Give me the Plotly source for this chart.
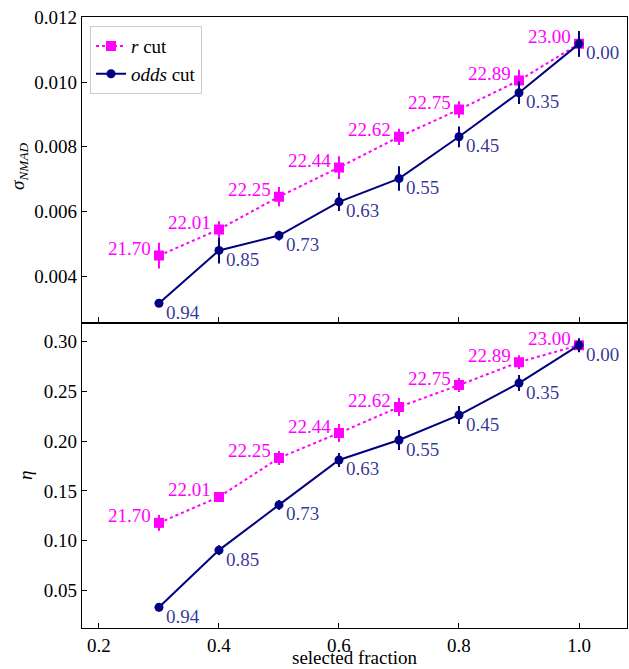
import plotly.graph_objects as go

# Selected fraction of the sample for each cut threshold
fraction = [0.3, 0.4, 0.5, 0.6, 0.7, 0.8, 0.9, 1.0]

# Magnitude (r) cut thresholds and odds cut thresholds
r_cut_labels = ["21.70", "22.01", "22.25", "22.44", "22.62", "22.75", "22.89", "23.00"]
odds_cut_labels = ["0.94", "0.85", "0.73", "0.63", "0.55", "0.45", "0.35", "0.00"]

# sigma_NMAD for each selection
sigma_r = [0.00464, 0.00545, 0.00646, 0.00736, 0.00831, 0.00915, 0.01005, 0.01118]
sigma_r_err = [0.00040, 0.00025, 0.00030, 0.00035, 0.00025, 0.00026, 0.00033, 0.00040]
sigma_odds = [0.00317, 0.00480, 0.00526, 0.00630, 0.00702, 0.00831, 0.00967, 0.01118]
sigma_odds_err = [0.00010, 0.00040, 0.00015, 0.00028, 0.00038, 0.00032, 0.00035, 0.00040]

# Outlier fraction eta for each selection
eta_r = [0.118, 0.144, 0.183, 0.208, 0.234, 0.256, 0.279, 0.296]
eta_r_err = [0.008, 0.005, 0.007, 0.009, 0.009, 0.007, 0.007, 0.005]
eta_odds = [0.0334, 0.0907, 0.136, 0.181, 0.201, 0.226, 0.258, 0.296]
eta_odds_err = [0.004, 0.005, 0.005, 0.007, 0.010, 0.009, 0.008, 0.007]

MAGENTA = "#ff00ff"
NAVY = "#000080"
NAVY_TEXT = "rgba(0,0,128,0.8)"
FONT = "Liberation Serif, DejaVu Serif, serif"
FS = 19

fig = go.Figure()


def add_pair(y_r, e_r, y_o, e_o, xa, ya, show):
    fig.add_trace(go.Scatter(
        x=fraction, y=y_r, xaxis=xa, yaxis=ya, name="<i>r</i> cut",
        mode="lines+markers", showlegend=show, legendrank=1,
        line=dict(color=MAGENTA, width=2, dash="dot"),
        marker=dict(symbol="square", size=10, color=MAGENTA),
        error_y=dict(type="data", array=e_r, color=MAGENTA, thickness=2, width=0),
    ))
    fig.add_trace(go.Scatter(
        x=fraction, y=y_o, xaxis=xa, yaxis=ya, name="<i>odds</i> cut",
        mode="lines+markers", showlegend=show, legendrank=2,
        line=dict(color=NAVY, width=2),
        marker=dict(symbol="circle", size=9, color=NAVY),
        error_y=dict(type="data", array=e_o, color=NAVY, thickness=2, width=0),
    ))
    for xv, yv, t in zip(fraction, y_r, r_cut_labels):
        fig.add_annotation(x=xv, y=yv, xref=xa, yref=ya, text=t, showarrow=False,
                           xanchor="right", yanchor="middle", xshift=-6, yshift=7,
                           font=dict(family=FONT, size=FS, color=MAGENTA))
    for xv, yv, t in zip(fraction, y_o, odds_cut_labels):
        fig.add_annotation(x=xv, y=yv, xref=xa, yref=ya, text=t, showarrow=False,
                           xanchor="left", yanchor="middle", xshift=5, yshift=-9,
                           font=dict(family=FONT, size=FS, color=NAVY_TEXT))


# top panel: sigma_NMAD (x2/y2), bottom panel: eta (x/y)
add_pair(sigma_r, sigma_r_err, sigma_odds, sigma_odds_err, "x2", "y2", True)
add_pair(eta_r, eta_r_err, eta_odds, eta_odds_err, "x", "y", False)

axis_common = dict(
    showline=True, linecolor="black", linewidth=1.2, mirror=True,
    ticks="inside", ticklen=5, tickwidth=1, tickcolor="black",
    showgrid=False, zeroline=False,
    tickfont=dict(family=FONT, size=FS, color="black"),
)

xr = [0.1717, 1.08]
fig.update_layout(
    width=629, height=669,
    margin=dict(l=82, r=2, t=17, b=41),
    paper_bgcolor="white", plot_bgcolor="white",
    font=dict(family=FONT, size=FS, color="black"),
    xaxis=dict(domain=[0, 1], anchor="y", range=xr, tickvals=[0.2, 0.4, 0.6, 0.8, 1.0],
               ticktext=["0.2", "0.4", "0.6", "0.8", "1.0"], ticklabelstandoff=0,
               **axis_common),
    xaxis2=dict(domain=[0, 1], anchor="y2", range=xr, matches="x",
                tickvals=[0.2, 0.4, 0.6, 0.8, 1.0], showticklabels=False,
                **axis_common),
    yaxis=dict(domain=[0, 0.5], anchor="x", range=[0.0127, 0.3187],
               tickvals=[0.05, 0.10, 0.15, 0.20, 0.25, 0.30],
               ticktext=["0.05", "0.10", "0.15", "0.20", "0.25", "0.30"],
               **axis_common),
    yaxis2=dict(domain=[0.5, 1], anchor="x2", range=[0.002574, 0.01201],
                tickvals=[0.004, 0.006, 0.008, 0.010, 0.012],
                ticktext=["0.004", "0.006", "0.008", "0.010", "0.012"],
                **axis_common),
    legend=dict(x=0.0147, y=0.985, xanchor="left", yanchor="top",
                bgcolor="white", bordercolor="#cccccc", borderwidth=1,
                font=dict(family=FONT, size=FS), itemwidth=30,
                tracegroupgap=0, traceorder="normal"),
    showlegend=True,
)

# Axis titles
fig.add_annotation(text="selected fraction", xref="paper", yref="paper",
                   x=0.5, y=-0.0675, xanchor="center", yanchor="bottom", borderpad=0,
                   showarrow=False, font=dict(family=FONT, size=FS))
fig.add_annotation(text="<i>σ</i><sub><i>NMAD</i></sub>", xref="paper", yref="paper",
                   x=-0.117, y=0.755, xanchor="center", yanchor="middle", textangle=-90,
                   showarrow=False, font=dict(family=FONT, size=FS))
fig.add_annotation(text="<i>η</i>", xref="paper", yref="paper",
                   x=-0.105, y=0.25, xanchor="center", yanchor="middle", textangle=-90,
                   showarrow=False, font=dict(family=FONT, size=FS))

fig.write_html("out.html")
